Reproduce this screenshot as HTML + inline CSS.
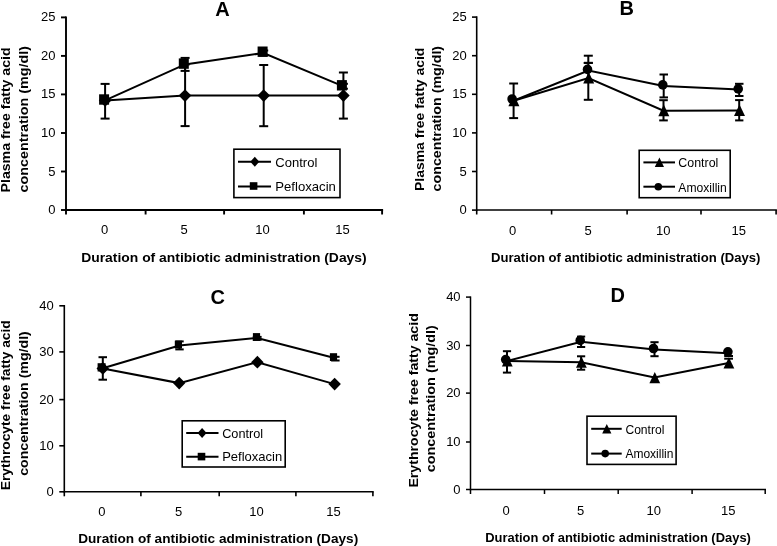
<!DOCTYPE html><html><head><meta charset="utf-8"><style>html,body{margin:0;padding:0;background:#fff;width:777px;height:546px;overflow:hidden}svg{display:block;filter:grayscale(1)}</style></head><body>
<svg width="777" height="546" viewBox="0 0 777 546" font-family='"Liberation Sans", sans-serif' fill="#000" stroke="#000">
<rect x="0" y="0" width="777" height="546" fill="#fff" stroke="none"/>
<g stroke="none">
</g>
<line x1="66.0" y1="16.5" x2="66.0" y2="210.9" stroke-width="1.9"/>
<line x1="66.0" y1="210.0" x2="383.1" y2="210.0" stroke-width="1.9"/>
<line x1="61.0" y1="17.4" x2="66.0" y2="17.4" stroke-width="1.9"/>
<line x1="61.0" y1="55.9" x2="66.0" y2="55.9" stroke-width="1.9"/>
<line x1="61.0" y1="94.4" x2="66.0" y2="94.4" stroke-width="1.9"/>
<line x1="61.0" y1="133.0" x2="66.0" y2="133.0" stroke-width="1.9"/>
<line x1="61.0" y1="171.5" x2="66.0" y2="171.5" stroke-width="1.9"/>
<line x1="61.0" y1="210.0" x2="66.0" y2="210.0" stroke-width="1.9"/>
<line x1="66.0" y1="210.0" x2="66.0" y2="214.5" stroke-width="1.9"/>
<line x1="145.6" y1="210.0" x2="145.6" y2="214.5" stroke-width="1.9"/>
<line x1="224.1" y1="210.0" x2="224.1" y2="214.5" stroke-width="1.9"/>
<line x1="303.9" y1="210.0" x2="303.9" y2="214.5" stroke-width="1.9"/>
<line x1="382.1" y1="210.0" x2="382.1" y2="214.5" stroke-width="1.9"/>
<text stroke="none" x="55.5" y="21.4" font-size="13" text-anchor="end">25</text>
<text stroke="none" x="55.5" y="59.9" font-size="13" text-anchor="end">20</text>
<text stroke="none" x="55.5" y="98.4" font-size="13" text-anchor="end">15</text>
<text stroke="none" x="55.5" y="137.0" font-size="13" text-anchor="end">10</text>
<text stroke="none" x="55.5" y="175.5" font-size="13" text-anchor="end">5</text>
<text stroke="none" x="55.5" y="214.0" font-size="13" text-anchor="end">0</text>
<text stroke="none" x="104.7" y="234.0" font-size="13" text-anchor="middle">0</text>
<text stroke="none" x="184.2" y="234.0" font-size="13" text-anchor="middle">5</text>
<text stroke="none" x="262.6" y="234.0" font-size="13" text-anchor="middle">10</text>
<text stroke="none" x="342.5" y="234.0" font-size="13" text-anchor="middle">15</text>
<text stroke="none" x="222.5" y="15.9" font-size="20" text-anchor="middle" font-weight="bold">A</text>
<text stroke="none" x="81.2" y="261.7" font-size="12.9" text-anchor="start" font-weight="bold" textLength="285.5" lengthAdjust="spacingAndGlyphs">Duration of antibiotic administration (Days)</text>
<text stroke="none" transform="translate(10.0,192.4) rotate(-90)" font-size="12.9" font-weight="bold" textLength="145.0" lengthAdjust="spacingAndGlyphs">Plasma free fatty acid</text>
<text stroke="none" transform="translate(28.0,192.4) rotate(-90)" font-size="12.9" font-weight="bold" textLength="146.4" lengthAdjust="spacingAndGlyphs">concentration (mg/dl)</text>
<line x1="105.1" y1="83.9" x2="105.1" y2="118.6" stroke-width="2"/>
<line x1="100.6" y1="83.9" x2="109.6" y2="83.9" stroke-width="2"/>
<line x1="100.6" y1="118.6" x2="109.6" y2="118.6" stroke-width="2"/>
<line x1="185.1" y1="64.5" x2="185.1" y2="126.1" stroke-width="2"/>
<line x1="180.6" y1="64.5" x2="189.6" y2="64.5" stroke-width="2"/>
<line x1="180.6" y1="126.1" x2="189.6" y2="126.1" stroke-width="2"/>
<line x1="185.1" y1="57.9" x2="185.1" y2="70.9" stroke-width="2"/>
<line x1="180.6" y1="57.9" x2="189.6" y2="57.9" stroke-width="2"/>
<line x1="180.6" y1="70.9" x2="189.6" y2="70.9" stroke-width="2"/>
<line x1="263.7" y1="65.0" x2="263.7" y2="126.2" stroke-width="2"/>
<line x1="259.2" y1="65.0" x2="268.2" y2="65.0" stroke-width="2"/>
<line x1="259.2" y1="126.2" x2="268.2" y2="126.2" stroke-width="2"/>
<line x1="263.7" y1="50.5" x2="263.7" y2="55.5" stroke-width="2"/>
<line x1="259.2" y1="50.5" x2="268.2" y2="50.5" stroke-width="2"/>
<line x1="259.2" y1="55.5" x2="268.2" y2="55.5" stroke-width="2"/>
<line x1="343.4" y1="72.5" x2="343.4" y2="118.6" stroke-width="2"/>
<line x1="338.9" y1="72.5" x2="347.9" y2="72.5" stroke-width="2"/>
<line x1="338.9" y1="118.6" x2="347.9" y2="118.6" stroke-width="2"/>
<line x1="343.4" y1="83.8" x2="343.4" y2="88.7" stroke-width="2"/>
<line x1="338.9" y1="83.8" x2="347.9" y2="83.8" stroke-width="2"/>
<line x1="338.9" y1="88.7" x2="347.9" y2="88.7" stroke-width="2"/>
<polyline points="105.1,100.4 185.0,95.6 263.7,95.6 343.4,95.6" fill="none" stroke-width="2"/>
<polyline points="105.1,100.4 185.0,64.4 263.5,53.0 343.4,86.3" fill="none" stroke-width="2"/>
<path d="M105.1 94.1L111.4 100.4L105.1 106.7L98.8 100.4Z" stroke="none"/>
<path d="M185.0 89.3L191.3 95.6L185.0 101.9L178.7 95.6Z" stroke="none"/>
<path d="M263.7 89.3L270.0 95.6L263.7 101.9L257.4 95.6Z" stroke="none"/>
<path d="M343.4 89.3L349.7 95.6L343.4 101.9L337.1 95.6Z" stroke="none"/>
<rect x="99.1" y="94.3" width="10" height="10.4" stroke="none"/>
<rect x="178.8" y="58.4" width="10" height="10.4" stroke="none"/>
<rect x="257.6" y="46.5" width="10" height="10.4" stroke="none"/>
<rect x="336.9" y="80.1" width="10" height="10.4" stroke="none"/>
<rect x="233.9" y="149.2" width="106.1" height="48.4" fill="none" stroke-width="1.6"/>
<line x1="238.0" y1="161.7" x2="271.0" y2="161.7" stroke-width="2"/>
<path d="M254.8 156.7L259.3 161.7L254.8 166.7L250.3 161.7Z" stroke="none"/>
<text stroke="none" x="275.3" y="166.8" font-size="13" text-anchor="start" textLength="42.0" lengthAdjust="spacingAndGlyphs">Control</text>
<line x1="238.0" y1="186.5" x2="271.0" y2="186.5" stroke-width="2"/>
<rect x="249.8" y="182.2" width="7.6" height="7.6" stroke="none"/>
<text stroke="none" x="275.3" y="191.3" font-size="13" text-anchor="start" textLength="60.6" lengthAdjust="spacingAndGlyphs">Pefloxacin</text>
<line x1="476.7" y1="16.3" x2="476.7" y2="210.8" stroke-width="1.6"/>
<line x1="476.7" y1="210.0" x2="776.9" y2="210.0" stroke-width="1.6"/>
<line x1="472.0" y1="17.1" x2="476.7" y2="17.1" stroke-width="1.6"/>
<line x1="472.0" y1="55.7" x2="476.7" y2="55.7" stroke-width="1.6"/>
<line x1="472.0" y1="94.3" x2="476.7" y2="94.3" stroke-width="1.6"/>
<line x1="472.0" y1="132.9" x2="476.7" y2="132.9" stroke-width="1.6"/>
<line x1="472.0" y1="171.5" x2="476.7" y2="171.5" stroke-width="1.6"/>
<line x1="472.0" y1="210.1" x2="476.7" y2="210.1" stroke-width="1.6"/>
<line x1="476.7" y1="210.0" x2="476.7" y2="214.5" stroke-width="1.6"/>
<line x1="551.6" y1="210.0" x2="551.6" y2="214.5" stroke-width="1.6"/>
<line x1="627.1" y1="210.0" x2="627.1" y2="214.5" stroke-width="1.6"/>
<line x1="701.0" y1="210.0" x2="701.0" y2="214.5" stroke-width="1.6"/>
<line x1="776.1" y1="210.0" x2="776.1" y2="214.5" stroke-width="1.6"/>
<text stroke="none" x="466.8" y="21.1" font-size="13" text-anchor="end">25</text>
<text stroke="none" x="466.8" y="59.7" font-size="13" text-anchor="end">20</text>
<text stroke="none" x="466.8" y="98.3" font-size="13" text-anchor="end">15</text>
<text stroke="none" x="466.8" y="136.9" font-size="13" text-anchor="end">10</text>
<text stroke="none" x="466.8" y="175.5" font-size="13" text-anchor="end">5</text>
<text stroke="none" x="466.8" y="214.1" font-size="13" text-anchor="end">0</text>
<text stroke="none" x="512.5" y="235.2" font-size="13" text-anchor="middle">0</text>
<text stroke="none" x="588.1" y="235.2" font-size="13" text-anchor="middle">5</text>
<text stroke="none" x="663.2" y="235.2" font-size="13" text-anchor="middle">10</text>
<text stroke="none" x="738.7" y="235.2" font-size="13" text-anchor="middle">15</text>
<text stroke="none" x="626.8" y="14.7" font-size="20" text-anchor="middle" font-weight="bold">B</text>
<text stroke="none" x="491.0" y="261.6" font-size="12.9" text-anchor="start" font-weight="bold" textLength="269.5" lengthAdjust="spacingAndGlyphs">Duration of antibiotic administration (Days)</text>
<text stroke="none" transform="translate(424.2,191.0) rotate(-90)" font-size="12.9" font-weight="bold" textLength="143.4" lengthAdjust="spacingAndGlyphs">Plasma free fatty acid</text>
<text stroke="none" transform="translate(440.7,191.4) rotate(-90)" font-size="12.9" font-weight="bold" textLength="145.5" lengthAdjust="spacingAndGlyphs">concentration (mg/dl)</text>
<line x1="513.6" y1="83.5" x2="513.6" y2="118.1" stroke-width="2"/>
<line x1="509.2" y1="83.5" x2="518.1" y2="83.5" stroke-width="2"/>
<line x1="509.2" y1="118.1" x2="518.1" y2="118.1" stroke-width="2"/>
<line x1="588.3" y1="62.9" x2="588.3" y2="99.8" stroke-width="2"/>
<line x1="583.8" y1="62.9" x2="592.8" y2="62.9" stroke-width="2"/>
<line x1="583.8" y1="99.8" x2="592.8" y2="99.8" stroke-width="2"/>
<line x1="588.3" y1="55.7" x2="588.3" y2="62.9" stroke-width="2"/>
<line x1="583.8" y1="55.7" x2="592.8" y2="55.7" stroke-width="2"/>
<line x1="583.8" y1="62.9" x2="592.8" y2="62.9" stroke-width="2"/>
<line x1="663.5" y1="100.2" x2="663.5" y2="120.4" stroke-width="2"/>
<line x1="659.2" y1="100.2" x2="667.8" y2="100.2" stroke-width="2"/>
<line x1="659.2" y1="120.4" x2="667.8" y2="120.4" stroke-width="2"/>
<line x1="663.7" y1="74.5" x2="663.7" y2="97.4" stroke-width="2"/>
<line x1="659.5" y1="74.5" x2="668.0" y2="74.5" stroke-width="2"/>
<line x1="659.5" y1="97.4" x2="668.0" y2="97.4" stroke-width="2"/>
<line x1="739.2" y1="100.1" x2="739.2" y2="120.4" stroke-width="2"/>
<line x1="735.1" y1="100.1" x2="743.4" y2="100.1" stroke-width="2"/>
<line x1="735.1" y1="120.4" x2="743.4" y2="120.4" stroke-width="2"/>
<line x1="739.2" y1="83.8" x2="739.2" y2="96.0" stroke-width="2"/>
<line x1="735.0" y1="83.8" x2="743.5" y2="83.8" stroke-width="2"/>
<line x1="735.0" y1="96.0" x2="743.5" y2="96.0" stroke-width="2"/>
<polyline points="513.6,100.7 588.4,78.1 663.5,110.7 739.2,110.6" fill="none" stroke-width="2"/>
<polyline points="513.6,100.8 588.4,70.6 663.5,85.9 739.2,89.4" fill="none" stroke-width="2"/>
<path d="M513.9 94.6L519.4 106.2L508.4 106.2Z" stroke="none"/>
<path d="M588.7 72.0L594.2 83.6L583.2 83.6Z" stroke="none"/>
<path d="M663.8 104.6L669.3 116.2L658.3 116.2Z" stroke="none"/>
<path d="M739.5 104.5L745.0 116.1L734.0 116.1Z" stroke="none"/>
<circle cx="512.1" cy="99.0" r="4.8" stroke="none"/>
<circle cx="587.5" cy="69.4" r="4.8" stroke="none"/>
<circle cx="662.8" cy="84.9" r="4.8" stroke="none"/>
<circle cx="738.2" cy="88.9" r="4.8" stroke="none"/>
<rect x="639.2" y="150.3" width="91" height="47.4" fill="none" stroke-width="1.6"/>
<line x1="643.4" y1="162.4" x2="675.0" y2="162.4" stroke-width="2"/>
<path d="M659.4 157.4L664.0 167.0L654.8 167.0Z" stroke="none"/>
<text stroke="none" x="678.3" y="167.2" font-size="13" text-anchor="start" textLength="40.0" lengthAdjust="spacingAndGlyphs">Control</text>
<line x1="643.4" y1="186.7" x2="675.0" y2="186.7" stroke-width="2"/>
<circle cx="658.3" cy="186.7" r="3.8" stroke="none"/>
<text stroke="none" x="678.3" y="191.6" font-size="13" text-anchor="start" textLength="48.5" lengthAdjust="spacingAndGlyphs">Amoxillin</text>
<line x1="64.3" y1="305.0" x2="64.3" y2="492.6" stroke-width="1.6"/>
<line x1="64.3" y1="491.8" x2="373.7" y2="491.8" stroke-width="1.6"/>
<line x1="59.3" y1="305.8" x2="64.3" y2="305.8" stroke-width="1.6"/>
<line x1="59.3" y1="351.9" x2="64.3" y2="351.9" stroke-width="1.6"/>
<line x1="59.3" y1="399.6" x2="64.3" y2="399.6" stroke-width="1.6"/>
<line x1="59.3" y1="445.8" x2="64.3" y2="445.8" stroke-width="1.6"/>
<line x1="59.3" y1="491.8" x2="64.3" y2="491.8" stroke-width="1.6"/>
<line x1="64.3" y1="491.8" x2="64.3" y2="496.3" stroke-width="1.6"/>
<line x1="140.9" y1="491.8" x2="140.9" y2="496.3" stroke-width="1.6"/>
<line x1="219.2" y1="491.8" x2="219.2" y2="496.3" stroke-width="1.6"/>
<line x1="295.9" y1="491.8" x2="295.9" y2="496.3" stroke-width="1.6"/>
<line x1="372.9" y1="491.8" x2="372.9" y2="496.3" stroke-width="1.6"/>
<text stroke="none" x="53.8" y="309.8" font-size="13" text-anchor="end">40</text>
<text stroke="none" x="53.8" y="355.9" font-size="13" text-anchor="end">30</text>
<text stroke="none" x="53.8" y="403.6" font-size="13" text-anchor="end">20</text>
<text stroke="none" x="53.8" y="449.8" font-size="13" text-anchor="end">10</text>
<text stroke="none" x="53.8" y="495.8" font-size="13" text-anchor="end">0</text>
<text stroke="none" x="101.8" y="516.2" font-size="13" text-anchor="middle">0</text>
<text stroke="none" x="178.7" y="516.2" font-size="13" text-anchor="middle">5</text>
<text stroke="none" x="256.6" y="516.2" font-size="13" text-anchor="middle">10</text>
<text stroke="none" x="333.6" y="516.2" font-size="13" text-anchor="middle">15</text>
<text stroke="none" x="217.7" y="303.5" font-size="20" text-anchor="middle" font-weight="bold">C</text>
<text stroke="none" x="78.2" y="542.9" font-size="12.9" text-anchor="start" font-weight="bold" textLength="280.0" lengthAdjust="spacingAndGlyphs">Duration of antibiotic administration (Days)</text>
<text stroke="none" transform="translate(9.6,490.3) rotate(-90)" font-size="12.9" font-weight="bold" textLength="170.0" lengthAdjust="spacingAndGlyphs">Erythrocyte free fatty acid</text>
<text stroke="none" transform="translate(27.5,475.8) rotate(-90)" font-size="12.9" font-weight="bold" textLength="144.6" lengthAdjust="spacingAndGlyphs">concentration (mg/dl)</text>
<line x1="102.8" y1="357.2" x2="102.8" y2="379.7" stroke-width="2"/>
<line x1="98.5" y1="357.2" x2="107.0" y2="357.2" stroke-width="2"/>
<line x1="98.5" y1="379.7" x2="107.0" y2="379.7" stroke-width="2"/>
<line x1="179.5" y1="341.4" x2="179.5" y2="349.4" stroke-width="2"/>
<line x1="175.3" y1="341.4" x2="183.7" y2="341.4" stroke-width="2"/>
<line x1="175.3" y1="349.4" x2="183.7" y2="349.4" stroke-width="2"/>
<line x1="252.8" y1="336.9" x2="261.6" y2="336.9" stroke-width="2"/>
<line x1="252.8" y1="339.8" x2="261.6" y2="339.8" stroke-width="2"/>
<line x1="331.1" y1="356.8" x2="339.6" y2="356.8" stroke-width="2"/>
<line x1="331.1" y1="360.5" x2="339.6" y2="360.5" stroke-width="2"/>
<polyline points="102.8,368.4 179.2,383.1 257.4,362.2 334.6,384.1" fill="none" stroke-width="2"/>
<polyline points="102.8,368.3 179.4,345.6 257.2,338.0 334.6,358.0" fill="none" stroke-width="2"/>
<path d="M102.8 362.0L109.0 368.4L102.8 374.8L96.5 368.4Z" stroke="none"/>
<path d="M179.2 376.7L185.4 383.1L179.2 389.5L172.9 383.1Z" stroke="none"/>
<path d="M257.4 355.8L263.6 362.2L257.4 368.6L251.1 362.2Z" stroke="none"/>
<path d="M334.6 377.7L340.9 384.1L334.6 390.5L328.4 384.1Z" stroke="none"/>
<rect x="174.8" y="340.7" width="7.2" height="7.8" stroke="none"/>
<rect x="252.9" y="333.1" width="7.2" height="7.8" stroke="none"/>
<rect x="329.9" y="353.2" width="7.2" height="7.8" stroke="none"/>
<rect x="97.6" y="363.2" width="8" height="8.3" stroke="none"/>
<rect x="182.2" y="420.8" width="103" height="46.2" fill="none" stroke-width="1.6"/>
<line x1="186.2" y1="433.1" x2="218.5" y2="433.1" stroke-width="2"/>
<path d="M202.1 428.1L206.6 433.1L202.1 438.1L197.6 433.1Z" stroke="none"/>
<text stroke="none" x="222.2" y="437.6" font-size="13" text-anchor="start" textLength="41.0" lengthAdjust="spacingAndGlyphs">Control</text>
<line x1="186.2" y1="456.8" x2="218.5" y2="456.8" stroke-width="2"/>
<rect x="197.7" y="452.8" width="7.6" height="7.6" stroke="none"/>
<text stroke="none" x="222.2" y="461.3" font-size="13" text-anchor="start" textLength="60.0" lengthAdjust="spacingAndGlyphs">Pefloxacin</text>
<line x1="470.5" y1="296.4" x2="470.5" y2="490.2" stroke-width="1.5"/>
<line x1="470.5" y1="489.5" x2="766.0" y2="489.5" stroke-width="1.5"/>
<line x1="466.0" y1="297.1" x2="470.5" y2="297.1" stroke-width="1.5"/>
<line x1="466.0" y1="345.5" x2="470.5" y2="345.5" stroke-width="1.5"/>
<line x1="466.0" y1="393.1" x2="470.5" y2="393.1" stroke-width="1.5"/>
<line x1="466.0" y1="442.0" x2="470.5" y2="442.0" stroke-width="1.5"/>
<line x1="466.0" y1="489.5" x2="470.5" y2="489.5" stroke-width="1.5"/>
<line x1="470.5" y1="489.5" x2="470.5" y2="494.0" stroke-width="1.5"/>
<line x1="544.5" y1="489.5" x2="544.5" y2="494.0" stroke-width="1.5"/>
<line x1="618.2" y1="489.5" x2="618.2" y2="494.0" stroke-width="1.5"/>
<line x1="692.1" y1="489.5" x2="692.1" y2="494.0" stroke-width="1.5"/>
<line x1="765.2" y1="489.5" x2="765.2" y2="494.0" stroke-width="1.5"/>
<text stroke="none" x="460.6" y="301.1" font-size="13" text-anchor="end">40</text>
<text stroke="none" x="460.6" y="349.5" font-size="13" text-anchor="end">30</text>
<text stroke="none" x="460.6" y="397.1" font-size="13" text-anchor="end">20</text>
<text stroke="none" x="460.6" y="446.0" font-size="13" text-anchor="end">10</text>
<text stroke="none" x="460.6" y="493.5" font-size="13" text-anchor="end">0</text>
<text stroke="none" x="506.0" y="514.5" font-size="13" text-anchor="middle">0</text>
<text stroke="none" x="580.6" y="514.5" font-size="13" text-anchor="middle">5</text>
<text stroke="none" x="653.7" y="514.5" font-size="13" text-anchor="middle">10</text>
<text stroke="none" x="728.3" y="514.5" font-size="13" text-anchor="middle">15</text>
<text stroke="none" x="617.8" y="301.6" font-size="20" text-anchor="middle" font-weight="bold">D</text>
<text stroke="none" x="485.2" y="542.0" font-size="12.9" text-anchor="start" font-weight="bold" textLength="265.7" lengthAdjust="spacingAndGlyphs">Duration of antibiotic administration (Days)</text>
<text stroke="none" transform="translate(418.1,487.6) rotate(-90)" font-size="12.9" font-weight="bold" textLength="174.4" lengthAdjust="spacingAndGlyphs">Erythrocyte free fatty acid</text>
<text stroke="none" transform="translate(435.1,472.3) rotate(-90)" font-size="12.9" font-weight="bold" textLength="147.2" lengthAdjust="spacingAndGlyphs">concentration (mg/dl)</text>
<line x1="507.0" y1="351.2" x2="507.0" y2="372.6" stroke-width="2"/>
<line x1="502.9" y1="351.2" x2="511.1" y2="351.2" stroke-width="2"/>
<line x1="502.9" y1="372.6" x2="511.1" y2="372.6" stroke-width="2"/>
<line x1="581.1" y1="336.6" x2="581.1" y2="347.0" stroke-width="2"/>
<line x1="577.0" y1="336.6" x2="585.2" y2="336.6" stroke-width="2"/>
<line x1="577.0" y1="347.0" x2="585.2" y2="347.0" stroke-width="2"/>
<line x1="581.1" y1="356.3" x2="581.1" y2="369.7" stroke-width="2"/>
<line x1="577.0" y1="356.3" x2="585.2" y2="356.3" stroke-width="2"/>
<line x1="577.0" y1="369.7" x2="585.2" y2="369.7" stroke-width="2"/>
<line x1="654.5" y1="342.2" x2="654.5" y2="356.2" stroke-width="2"/>
<line x1="650.4" y1="342.2" x2="658.6" y2="342.2" stroke-width="2"/>
<line x1="650.4" y1="356.2" x2="658.6" y2="356.2" stroke-width="2"/>
<line x1="724.2" y1="356.0" x2="733.0" y2="356.0" stroke-width="2"/>
<line x1="724.2" y1="358.7" x2="733.0" y2="358.7" stroke-width="2"/>
<polyline points="507.0,361.0 581.1,362.2 654.5,377.6 728.6,362.9" fill="none" stroke-width="2"/>
<polyline points="507.0,361.1 581.1,341.8 654.5,349.6 728.6,353.2" fill="none" stroke-width="2"/>
<path d="M507.3 355.4L512.7 366.6L501.9 366.6Z" stroke="none"/>
<path d="M581.4 356.6L586.8 367.8L576.0 367.8Z" stroke="none"/>
<path d="M654.8 372.0L660.2 383.2L649.4 383.2Z" stroke="none"/>
<path d="M728.9 357.3L734.3 368.5L723.5 368.5Z" stroke="none"/>
<circle cx="505.7" cy="359.6" r="4.8" stroke="none"/>
<circle cx="580.2" cy="340.4" r="4.8" stroke="none"/>
<circle cx="653.5" cy="348.5" r="4.8" stroke="none"/>
<circle cx="727.9" cy="351.8" r="4.8" stroke="none"/>
<rect x="587" y="416.2" width="89.1" height="48.2" fill="none" stroke-width="1.6"/>
<line x1="591.2" y1="428.8" x2="621.7" y2="428.8" stroke-width="2"/>
<path d="M606.8 423.9L611.4 433.5L602.2 433.5Z" stroke="none"/>
<text stroke="none" x="625.4" y="433.7" font-size="13" text-anchor="start" textLength="39.0" lengthAdjust="spacingAndGlyphs">Control</text>
<line x1="591.2" y1="453.6" x2="621.7" y2="453.6" stroke-width="2"/>
<circle cx="605.2" cy="453.6" r="3.8" stroke="none"/>
<text stroke="none" x="625.4" y="458.4" font-size="13" text-anchor="start" textLength="48.0" lengthAdjust="spacingAndGlyphs">Amoxillin</text>
</svg></body></html>
